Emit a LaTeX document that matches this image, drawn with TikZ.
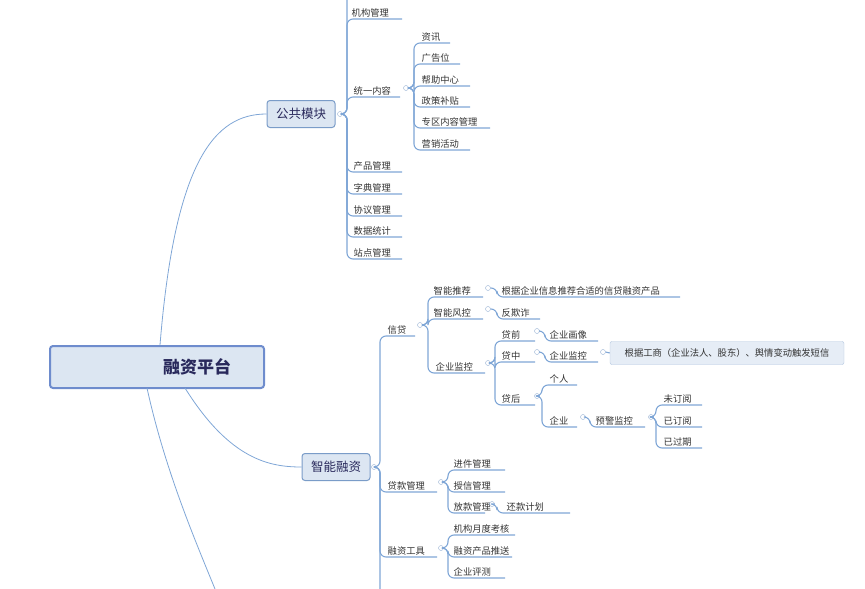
\documentclass[tikz,border=0pt]{standalone}
\usepackage{fontspec}
\setmainfont{Noto Sans CJK SC}
\usetikzlibrary{positioning}
\definecolor{lineblue}{HTML}{7FA6D6}
\definecolor{boxfill}{HTML}{DCE6F2}
\definecolor{boxline}{HTML}{7A9CC8}
\definecolor{txt}{HTML}{333333}
\tikzset{
  br/.style={draw=lineblue, line width=1.1pt, rounded corners=6pt},
  leaf/.style={anchor=south west, inner sep=1.5pt, text=txt, font=\fontsize{9.3}{11}\selectfont},
  fold/.style={circle, draw=boxline!80, fill=white, inner sep=0pt, minimum size=5pt},
  topic/.style={draw=boxline, fill=boxfill, rounded corners=3pt, line width=1pt, text=txt!80!blue, font=\fontsize{12.5}{14}\selectfont, minimum height=27pt, minimum width=68pt},
}
\begin{document}
\begin{tikzpicture}[x=1pt, y=-1pt]
\useasboundingbox (0,0) rectangle (865,589);
% root and main topics
\node[topic, minimum width=214pt, minimum height=42pt, line width=2pt, draw=boxline!90!blue, font=\fontsize{17}{20}\selectfont\bfseries] (root) at (157,367) {\hspace*{80pt}融资平台};
\node[topic] (pub) at (301,114) {公共模块};
\node[topic, minimum width=68pt] (fin) at (336,467) {智能融资};
\draw[lineblue, line width=0.8pt] (160,345) .. controls (175,160) and (215,114) .. (pub.west);
\draw[lineblue, line width=0.8pt] (185,388) .. controls (230,460) and (270,467) .. (fin.west);
\draw[lineblue, line width=0.8pt] (147,388) .. controls (165,470) and (195,540) .. (215,589);
% public module
\node[fold] (cpub) at (340,114) {};
\draw[br] (cpub.east) -| (347,0);
\node[leaf] (jg) at (350,19) {机构管理};
\draw[br] (cpub.east) -| (347,19) -- (402,19);
\node[leaf] (ty) at (352,97) {统一内容};
\draw[br] (cpub.east) -| (347,97) -- (400,97);
\foreach \y/\t in {172/产品管理,194/字典管理,216/协议管理,237/数据统计,259/站点管理}
  {\node[leaf] at (352,\y) {\t}; \draw[br] (cpub.east) -| (347,\y) -- (402,\y);}
\node[fold] (cty) at (406,88) {};
\foreach \y/\t/\e in {43/资讯/450,64/广告位/460,86/帮助中心/470,107/政策补贴/470,128/专区内容管理/490,150/营销活动/470}
  {\node[leaf] at (420,\y) {\t}; \draw[br] (cty.east) -| (414,\y) -- (\e,\y);}
% smart finance
\node[fold] (cfin) at (374,467) {};
\draw[br] (cfin.east) -| (380,589);
\node[leaf] (xd) at (386,336) {信贷};
\draw[br] (cfin.east) -| (380,336) -- (415,336);
\node[fold] (cxd) at (420,325) {};
\node[leaf] (tj) at (432,297) {智能推荐};
\draw[br] (cxd.east) -| (428,297) -- (483,297);
\node[fold] (ctj) at (488,288) {};
\node[leaf] (tjd) at (500,297) {根据企业信息推荐合适的信贷融资产品};
\draw[br] (ctj.east) -- (497,288) |- (680,297);
\node[leaf] (fk) at (432,319) {智能风控};
\draw[br] (cxd.east) -| (428,319) -- (483,319);
\node[fold] (cfk) at (488,309) {};
\node[leaf] (fqz) at (500,319) {反欺诈};
\draw[br] (cfk.east) -- (497,309) |- (540,319);
\node[leaf] (jk) at (434,373) {企业监控};
\draw[br] (cxd.east) -| (428,373) -- (485,373);
\node[fold] (cjk) at (488,363) {};
\foreach \n/\y/\t in {dq/341/贷前,dz/362/贷中,dh/405/贷后}
  {\node[leaf] (\n) at (500,\y) {\t}; \draw[br] (cjk.east) -| (495,\y) -- (535,\y);}
\node[fold] (cdq) at (537,331) {};
\node[leaf] (hx) at (548,341) {企业画像};
\draw[br] (cdq.east) -- (545,331) |- (598,341);
\node[fold] (cdz) at (537,352) {};
\node[leaf] (jk2) at (548,362) {企业监控};
\draw[br] (cdz.east) -- (545,352) |- (598,362);
\node[fold] (cjk2) at (603,352) {};
\node[draw=boxline!60, fill=boxfill!70, rounded corners=2pt, text=txt, font=\fontsize{9.3}{11}\selectfont, minimum width=234pt, minimum height=23pt] (note) at (727,353) {根据工商（企业法人、股东）、舆情变动触发短信};
\draw[br] (cjk2.east) -- (note.west);
\node[fold] (cdh) at (537,396) {};
\node[leaf] (gr) at (548,385) {个人};
\draw[br] (cdh.east) -| (542,385) -- (577,385);
\node[leaf] (qy) at (548,427) {企业};
\draw[br] (cdh.east) -| (542,427) -- (577,427);
\node[fold] (cqy) at (583,417) {};
\node[leaf] (yj) at (594,427) {预警监控};
\draw[br] (cqy.east) -- (590,417) |- (645,427);
\node[fold] (cyj) at (651,417) {};
\foreach \y/\t in {405/未订阅,427/已订阅,448/已过期}
  {\node[leaf] at (662,\y) {\t}; \draw[br] (cyj.east) -| (656,\y) -- (702,\y);}
\node[leaf] (dk) at (386,492) {贷款管理};
\draw[br] (cfin.east) -| (380,492) -- (437,492);
\node[fold] (cdk) at (441,482) {};
\foreach \y/\t/\e in {470/进件管理/505,492/授信管理/505,513/放款管理/485}
  {\node[leaf] at (452,\y) {\t}; \draw[br] (cdk.east) -| (448,\y) -- (\e,\y);}
\node[fold] (cfkg) at (492,504) {};
\node[leaf] (hk) at (505,513) {还款计划};
\draw[br] (cfkg.east) -- (497,504) |- (570,513);
\node[leaf] (gj) at (386,557) {融资工具};
\draw[br] (cfin.east) -| (380,557) -- (437,557);
\node[fold] (cgj) at (441,548) {};
\foreach \y/\t/\e in {535/机构月度考核/515,557/融资产品推送/512,578/企业评测/505}
  {\node[leaf] at (452,\y) {\t}; \draw[br] (cgj.east) -| (448,\y) -- (\e,\y);}
\end{tikzpicture}
\end{document}
